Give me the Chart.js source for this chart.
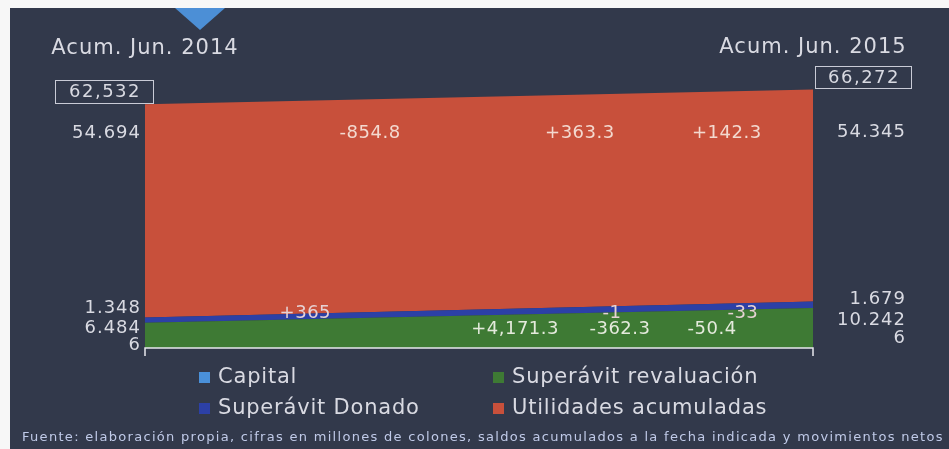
<!DOCTYPE html>
<html lang="es">
<head>
<meta charset="UTF-8" />
<title>Patrimonio acumulado</title>
<script src="https://cdn.jsdelivr.net/npm/chart.js"></script>
<style>
  html, body { margin: 0; padding: 0; background: #f7f7f7; }
  #wrap {
    position: absolute; left: 10px; top: 8px;
    width: 939px; height: 441px;
    background: #32394b;
  }
  canvas { display: block; }
</style>
</head>
<body>
<div id="wrap"><canvas id="c" width="939" height="441"></canvas></div>
<script>
// data
const periods = ['Acum. Jun. 2014', 'Acum. Jun. 2015'];
const capital = [6, 6];
const revaluacion = [6484, 10242];
const donado = [1348, 1679];
const utilidades = [54694, 54345];
const totals = [62532, 66272];
const movUtilidades = ['-854.8', '+363.3', '+142.3'];
const movDonado = ['+365', '-1', '-33'];
const movRevaluacion = ['+4,171.3', '-362.3', '-50.4'];
const footnote = 'Fuente: elaboración propia, cifras en millones de colones, saldos acumulados a la fecha indicada y movimientos netos';

const FONT = '"DejaVu Sans", sans-serif';
const TXT = '#d9dae2';
const dotFmt = v => v.toLocaleString('de-DE');
const comFmt = v => v.toLocaleString('en-US');

function series(label, vals, color, fill) {
  return {
    label, data: vals.map((v, i) => ({ x: i, y: v })),
    backgroundColor: color, borderWidth: 0, pointRadius: 0,
    fill, tension: 0
  };
}

const decor = {
  id: 'decor',
  beforeDraw(chart) {
    const ctx = chart.ctx;
    // little blue marker at the top
    ctx.save();
    ctx.fillStyle = '#4c8fd6';
    ctx.beginPath();
    ctx.moveTo(165, 0); ctx.lineTo(215, 0); ctx.lineTo(190, 22); ctx.closePath();
    ctx.fill();
    ctx.restore();
  },
  afterDatasetsDraw(chart) {
    const { ctx, chartArea: a, scales: { x, y } } = chart;
    ctx.save();
    ctx.textBaseline = 'middle';

    // axis line with end ticks
    ctx.strokeStyle = '#e8e8ee';
    ctx.lineWidth = 1.5;
    ctx.beginPath();
    ctx.moveTo(a.left, a.bottom + 8); ctx.lineTo(a.left, a.bottom);
    ctx.lineTo(a.right, a.bottom); ctx.lineTo(a.right, a.bottom + 8);
    ctx.stroke();

    // period titles and total boxes
    ctx.fillStyle = TXT;
    ctx.font = '21px ' + FONT;
    ctx.letterSpacing = '1px';
    ctx.textAlign = 'center';
    ctx.fillText(periods[0], x.getPixelForValue(0), 41);
    ctx.fillText(periods[1], x.getPixelForValue(1), 40);

    ctx.font = '18px ' + FONT;
    ctx.letterSpacing = '1.5px';
    const boxes = [[45, 72, 98, 23], [805, 58, 96, 22]];
    totals.forEach((t, i) => {
      const [bx, by, bw, bh] = boxes[i];
      ctx.strokeStyle = '#c9cbd6';
      ctx.lineWidth = 1;
      ctx.strokeRect(bx + 0.5, by + 0.5, bw, bh);
      ctx.fillText(comFmt(t), bx + bw / 2 + 1, by + bh / 2 + 1);
    });

    // side values
    ctx.font = '18px ' + FONT;
    ctx.letterSpacing = '1px';
    ctx.textAlign = 'right';
    const lx = a.left - 4, rx = a.right + 93;
    ctx.fillText(dotFmt(utilidades[0]), lx, y.getPixelForValue(utilidades[0]) - 1);
    ctx.fillText(dotFmt(donado[0]), lx, a.bottom - 40);
    ctx.fillText(dotFmt(revaluacion[0]), lx, a.bottom - 20);
    ctx.fillText(dotFmt(capital[0]), lx, a.bottom - 3);
    ctx.fillText(dotFmt(utilidades[1]), rx, y.getPixelForValue(utilidades[1]) - 4);
    ctx.fillText(dotFmt(donado[1]), rx, a.bottom - 49);
    ctx.fillText(dotFmt(revaluacion[1]), rx, a.bottom - 28);
    ctx.fillText(dotFmt(capital[1]), rx, a.bottom - 10);

    // net movements
    ctx.textAlign = 'center';
    ctx.font = '18px ' + FONT;
    ctx.letterSpacing = '0.5px';
    const rows = [
      { labels: movUtilidades, at: [0.337, 0.651, 0.871], yy: y.getPixelForValue(utilidades[0]) - 1, col: '#f3d9cf' },
      { labels: movDonado, at: [0.24, 0.699, 0.895], yy: a.bottom - 35, col: '#e6d2d4' },
      { labels: movRevaluacion, at: [0.554, 0.711, 0.849], yy: a.bottom - 19, col: '#e4eadc' }
    ];
    rows.forEach(r => {
      ctx.fillStyle = r.col;
      r.labels.forEach((t, i) => ctx.fillText(t, x.getPixelForValue(r.at[i]), r.yy));
    });

    // legend, 2 x 2
    ctx.textAlign = 'left';
    ctx.font = '21px ' + FONT;
    ctx.letterSpacing = '0.8px';
    const ds = chart.data.datasets;
    const cells = [[0, 189, 370], [1, 483, 370], [2, 189, 401], [3, 483, 401]];
    cells.forEach(([i, cx, cy]) => {
      ctx.fillStyle = ds[i].backgroundColor;
      ctx.fillRect(cx, cy - 6, 11, 11);
      ctx.fillStyle = TXT;
      ctx.fillText(ds[i].label, cx + 19, cy);
    });

    // footnote
    ctx.font = '13px ' + FONT;
    ctx.fillStyle = '#c0cae8';
    ctx.letterSpacing = '1.3px';
    ctx.fillText(footnote, 12, 430);
    ctx.restore();
  }
};

new Chart(document.getElementById('c'), {
  type: 'line',
  data: {
    datasets: [
      series('Capital', capital, '#4a90d9', 'origin'),
      series('Superávit revaluación', revaluacion, '#3e7a34', '-1'),
      series('Superávit Donado', donado, '#2c40a6', '-1'),
      series('Utilidades acumuladas', utilidades, '#c8503b', '-1')
    ]
  },
  options: {
    responsive: false,
    animation: false,
    layout: { padding: { left: 135, right: 136, top: 67, bottom: 101 } },
    plugins: { legend: { display: false }, tooltip: { enabled: false } },
    scales: {
      x: { type: 'linear', min: 0, max: 1, display: false },
      y: { stacked: true, min: 0, max: 70000, display: false }
    }
  },
  plugins: [decor]
});
</script>
</body>
</html>
